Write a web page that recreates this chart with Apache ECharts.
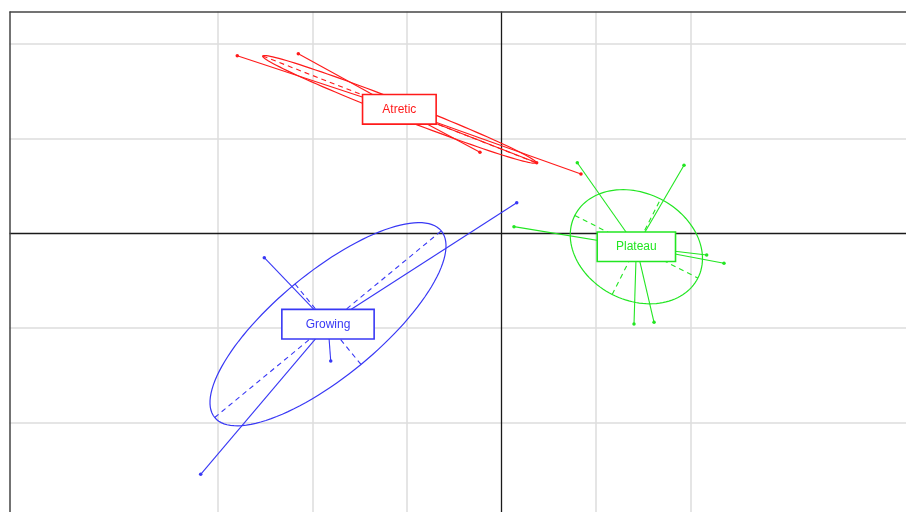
<!DOCTYPE html>
<html>
<head>
<meta charset="utf-8">
<script src="https://cdn.jsdelivr.net/npm/echarts@6/dist/echarts.min.js"></script>
<style>
html,body{margin:0;padding:0;background:#fff;}
#chart{width:906px;height:512px;}
</style>
</head>
<body>
<div id="chart"></div>
<script>
// ---- data ----
const classNames = ['Atretic', 'Growing', 'Plateau'];
const classCenterX = [-1.081, -1.836, 1.427];
const classCenterY = [1.306, -0.963, -0.145];

const atreticX = [-2.796, -2.150, -0.228, 0.372, 0.841];
const atreticY = [1.872, 1.893, 0.852, 0.742, 0.623];
const growingX = [0.161, -3.183, -2.510, -1.807];
const growingY = [0.320, -2.548, -0.261, -1.352];
const plateauX = [0.802, 1.931, 0.132, 2.171, 2.354, 1.402, 1.614];
const plateauY = [0.742, 0.715, 0.067, -0.232, -0.320, -0.961, -0.943];

// ellipse: semi-major axis vector (x, y) and semi-minor length
const ellipseMajorX = [1.446, 1.199, 0.651];
const ellipseMajorY = [-0.563, 0.985, -0.331];
const ellipseMinor = [0.085, 0.55, 0.565];

const gridXTicks = [-3, -2, -1, 1, 2];
const gridYTicks = [-2, -1, 1, 2];

// ---- view (visible window of the plot) ----
const xMin = -5.206, xMax = 4.280, yMin = -2.946, yMax = 2.339;
const colors = ['#ff1a1a', '#3838f5', '#22e622'];
const labelPads = [[7, 19], [7, 23], [7, 18]];

const pointsX = [atreticX, growingX, plateauX];
const pointsY = [atreticY, growingY, plateauY];

const gridLines = [];
gridXTicks.forEach(v => gridLines.push({coords: [[v, yMin], [v, yMax]]}));
gridYTicks.forEach(v => gridLines.push({coords: [[xMin, v], [xMax, v]]}));
const zeroLines = [
  {coords: [[0, yMin], [0, yMax]]},
  {coords: [[xMin, 0], [xMax, 0]]}
];
const frameLines = [
  {coords: [[xMin, yMax], [xMax, yMax]]},
  {coords: [[xMin, yMin], [xMin, yMax]]}
];

const series = [
  {type: 'lines', coordinateSystem: 'cartesian2d', z: 1, silent: true,
   lineStyle: {color: '#dcdcdc', width: 1.5, opacity: 1}, data: gridLines},
  {type: 'lines', coordinateSystem: 'cartesian2d', z: 2, silent: true,
   lineStyle: {color: '#1a1a1a', width: 1.3, opacity: 1}, data: zeroLines},
  {type: 'lines', coordinateSystem: 'cartesian2d', z: 2, silent: true,
   lineStyle: {color: '#444444', width: 1.5, opacity: 1}, data: frameLines}
];

classNames.forEach((name, k) => {
  const cx = classCenterX[k], cy = classCenterY[k];
  const star = pointsX[k].map((x, i) => ({coords: [[cx, cy], [x, pointsY[k][i]]]}));
  series.push({type: 'lines', coordinateSystem: 'cartesian2d', z: 3, silent: true,
    lineStyle: {color: colors[k], width: 1.1, opacity: 1}, data: star});
  series.push({type: 'scatter', z: 4, silent: true, symbol: 'circle', symbolSize: 3.5,
    itemStyle: {color: colors[k], opacity: 1},
    data: pointsX[k].map((x, i) => [x, pointsY[k][i]])});
  series.push({
    type: 'custom', z: 3, silent: true, clip: false,
    data: [[cx, cy, ellipseMajorX[k], ellipseMajorY[k], ellipseMinor[k]]],
    renderItem: function (params, api) {
      const c0 = api.value(0), c1 = api.value(1);
      const ax = api.value(2), ay = api.value(3), b = api.value(4);
      const len = Math.sqrt(ax * ax + ay * ay);
      const nx = -ay / len * b, ny = ax / len * b;
      const pts = [];
      for (let j = 0; j <= 120; j++) {
        const t = j / 120 * Math.PI * 2;
        pts.push(api.coord([c0 + Math.cos(t) * ax + Math.sin(t) * nx,
                            c1 + Math.cos(t) * ay + Math.sin(t) * ny]));
      }
      const p1 = api.coord([c0 - ax, c1 - ay]), p2 = api.coord([c0 + ax, c1 + ay]);
      const q1 = api.coord([c0 - nx, c1 - ny]), q2 = api.coord([c0 + nx, c1 + ny]);
      const col = colors[k];
      return {type: 'group', children: [
        {type: 'polyline', shape: {points: pts}, style: {fill: null, stroke: col, lineWidth: 1.2}},
        {type: 'line', shape: {x1: p1[0], y1: p1[1], x2: p2[0], y2: p2[1]},
         style: {stroke: col, lineWidth: 1.1, lineDash: [5, 4]}},
        {type: 'line', shape: {x1: q1[0], y1: q1[1], x2: q2[0], y2: q2[1]},
         style: {stroke: col, lineWidth: 1.1, lineDash: [5, 4]}}
      ]};
    }
  });
  series.push({type: 'scatter', z: 10, silent: true, symbol: 'rect', symbolSize: 0,
    itemStyle: {color: 'rgba(0,0,0,0)', opacity: 1},
    data: [[cx, cy, name]],
    label: {show: true, position: 'inside', formatter: p => p.value[2], opacity: 1,
      color: colors[k], fontSize: 12, fontFamily: 'Liberation Sans, Arial, sans-serif',
      lineHeight: 14, backgroundColor: '#ffffff', borderColor: colors[k], borderWidth: 1.6,
      padding: labelPads[k]}
  });
});

const chart = echarts.init(document.getElementById('chart'), null, {renderer: 'canvas'});
chart.setOption({
  animation: false,
  backgroundColor: '#ffffff',
  grid: {left: 9.5, top: 11.5, right: 0, bottom: 0, show: false},
  xAxis: {type: 'value', min: xMin, max: xMax, show: false},
  yAxis: {type: 'value', min: yMin, max: yMax, show: false},
  series: series
});
</script>
</body>
</html>
